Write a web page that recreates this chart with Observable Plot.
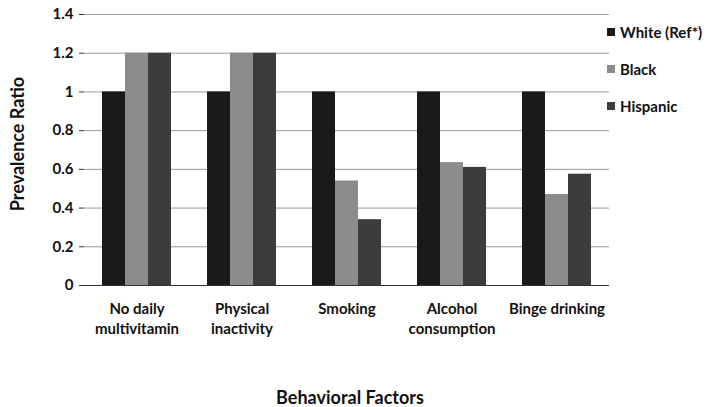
<!DOCTYPE html>
<html>
<head>
<meta charset="utf-8">
<script src="https://cdn.jsdelivr.net/npm/d3@7"></script>
<script src="https://cdn.jsdelivr.net/npm/@observablehq/plot@0.6"></script>
<style>
  html, body { margin: 0; padding: 0; background: #fff; }
  #wrap { position: relative; width: 707px; height: 407px; font-family: Lato, "Open Sans", sans-serif; font-weight: 700; color: #111; }
  #legend { position: absolute; left: 607px; top: 22px; font-size: 15px; white-space: nowrap; }
  #legend .item { display: flex; align-items: center; height: 20px; margin-bottom: 17px; }
  #legend .sw { width: 8px; height: 8px; margin-right: 5px; }
  #ytitle { position: absolute; left: 17px; top: 144px; transform: translate(-50%, -50%) rotate(-90deg); font-size: 18px; white-space: nowrap; }
  #xtitle { position: absolute; left: 350px; top: 397px; transform: translate(-50%, -50%); font-size: 18px; white-space: nowrap; }
</style>
</head>
<body>
<div id="wrap">
  <div id="chart"></div>
  <div id="legend"></div>
  <div id="ytitle">Prevalence Ratio</div>
  <div id="xtitle">Behavioral Factors</div>
</div>
<script>
const categories = ["No daily multivitamin", "Physical inactivity", "Smoking", "Alcohol consumption", "Binge drinking"];
const categoryLabels = ["No daily\nmultivitamin", "Physical\ninactivity", "Smoking", "Alcohol\nconsumption", "Binge drinking"];
const races = ["White (Ref*)", "Black", "Hispanic"];
const whiteValues = [1, 1, 1, 1, 1];
const blackValues = [1.2, 1.2, 0.54, 0.635, 0.47];
const hispanicValues = [1.2, 1.2, 0.34, 0.61, 0.575];
const colors = ["#1a1a1a", "#8c8c8c", "#3c3c3c"];
const yTicks = [0, 0.2, 0.4, 0.6, 0.8, 1, 1.2, 1.4];

const series = [whiteValues, blackValues, hispanicValues];
const data = [];
categories.forEach((c, i) => races.forEach((r, j) => data.push({category: c, race: r, value: series[j][i]})));

const chart = Plot.plot({
  width: 707,
  height: 407,
  marginLeft: 82,
  marginRight: 97,
  marginTop: 14,
  marginBottom: 122,
  style: {fontFamily: "Lato, 'Open Sans', sans-serif", fontWeight: 700, fontSize: "14px", color: "#111", background: "white", overflow: "visible"},
  fx: {domain: categories, padding: 0, label: null},
  x: {domain: races, paddingInner: 0, paddingOuter: 0.76, axis: null},
  y: {domain: [0, 1.4], label: null},
  color: {domain: races, range: colors},
  marks: [
    Plot.gridY(yTicks, {stroke: "#9a9a9a", strokeOpacity: 1, strokeWidth: 1}),
    Plot.barY(data, {fx: "category", x: "race", y: "value", fill: "race"}),
    Plot.ruleY([0], {stroke: "#333", strokeWidth: 1.2}),
    Plot.axisY(yTicks, {tickSize: 5, tickPadding: 6, stroke: "#333", label: null, fontSize: 15, tickFormat: d => String(d)}),
    Plot.axisFx({anchor: "bottom", tickSize: 0, tickPadding: 14, lineHeight: 1.35, label: null, fontSize: 15,
      tickFormat: d => categoryLabels[categories.indexOf(d)]})
  ]
});
document.getElementById("chart").appendChild(chart);

const legend = document.getElementById("legend");
races.forEach((r, i) => {
  const item = document.createElement("div");
  item.className = "item";
  const sw = document.createElement("span");
  sw.className = "sw";
  sw.style.background = colors[i];
  const t = document.createElement("span");
  t.textContent = r;
  item.appendChild(sw);
  item.appendChild(t);
  legend.appendChild(item);
});
</script>
</body>
</html>
